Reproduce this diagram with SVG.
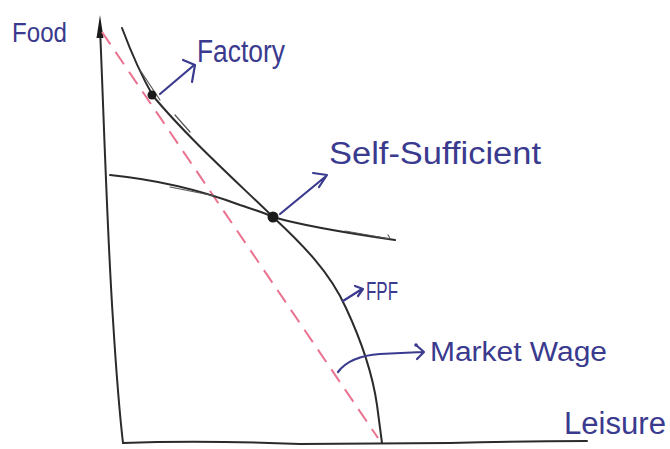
<svg xmlns="http://www.w3.org/2000/svg" width="670" height="449" viewBox="0 0 670 449">
<style>
.ink{fill:none;stroke:#2b2b2b;stroke-width:2;stroke-linecap:round;stroke-linejoin:round}
.faint{fill:none;stroke:#555;stroke-width:1.2;stroke-linecap:round}
.blue{fill:none;stroke:#3a3a8e;stroke-width:2.2;stroke-linecap:round;stroke-linejoin:round}
.lbl{fill:#3a3a8e;font-family:"Liberation Sans",Arial,sans-serif}
.dash{fill:none;stroke:#ea7290;stroke-width:2;stroke-dasharray:15 9}
</style>
<rect width="670" height="449" fill="#ffffff"/>
<g id="axes">
<path class="ink" d="M100,28 C104,120 107,230 113,320 Q118,400 123,443"/>
<polygon points="96.5,38 100,15 103.5,38" fill="#1a1a1a"/>
<path class="ink" d="M123,443 Q200,440 300,444 L450,443 Q520,441 587,441"/>
</g>
<g id="connectors">
<path id="market-wage-line" class="dash" d="M102,32 L378,438"/>
<g id="ppf">
<path class="ink" d="M122,28 Q137,68 153,96 C190,140 235,180 273,217 C302,244 330,272 346,308 C360,338 372,370 377,405 L382,443"/>
<path class="faint" d="M140,70 L160,100 M175,115 L190,132"/>
</g>
<g id="indifference">
<path class="ink" d="M110,175 C160,180 200,190 240,205 C255,210 265,213 273,217 C300,225 340,232 395,240"/>
<path class="faint" d="M170,187 L215,196 M345,231 L385,238 Q392,240 388,235"/>
</g>
</g>
<g id="factory-point"><circle cx="152" cy="95" r="4.5" fill="#1a1a1a"/></g>
<g id="self-sufficient-point"><circle cx="273" cy="217" r="5.5" fill="#1a1a1a"/></g>
<g id="food"><text class="lbl" x="12" y="42" font-size="28" textLength="55" lengthAdjust="spacingAndGlyphs">Food</text></g>
<g id="factory">
<path class="blue" d="M160,94 L193,66 M183,60 L195,65 L192,82"/>
<text class="lbl" x="197" y="62" font-size="31" textLength="88" lengthAdjust="spacingAndGlyphs">Factory</text>
</g>
<g id="self-sufficient">
<path class="blue" d="M280,214 L325,177 M313,173 L327,175 L319,187"/>
<text class="lbl" x="329" y="164" font-size="31" textLength="212" lengthAdjust="spacingAndGlyphs">Self-Sufficient</text>
</g>
<g id="ppf-label">
<path class="blue" d="M343,301 L362,289 M355,286 L363,289 L358,296"/>
<text class="lbl" x="366" y="300" font-size="26" textLength="32" lengthAdjust="spacingAndGlyphs">FPF</text>
</g>
<g id="market-wage">
<path class="blue" d="M338,372 Q350,356 380,354 L422,352 M416,345 L424,352 L417,359"/>
<circle cx="416" cy="345" r="1.8" fill="#3a3a8e"/>
<text class="lbl" x="430" y="361" font-size="27" textLength="177" lengthAdjust="spacingAndGlyphs">Market Wage</text>
</g>
<g id="leisure"><text class="lbl" x="564" y="434" font-size="31" textLength="102" lengthAdjust="spacingAndGlyphs">Leisure</text></g>
</svg>
